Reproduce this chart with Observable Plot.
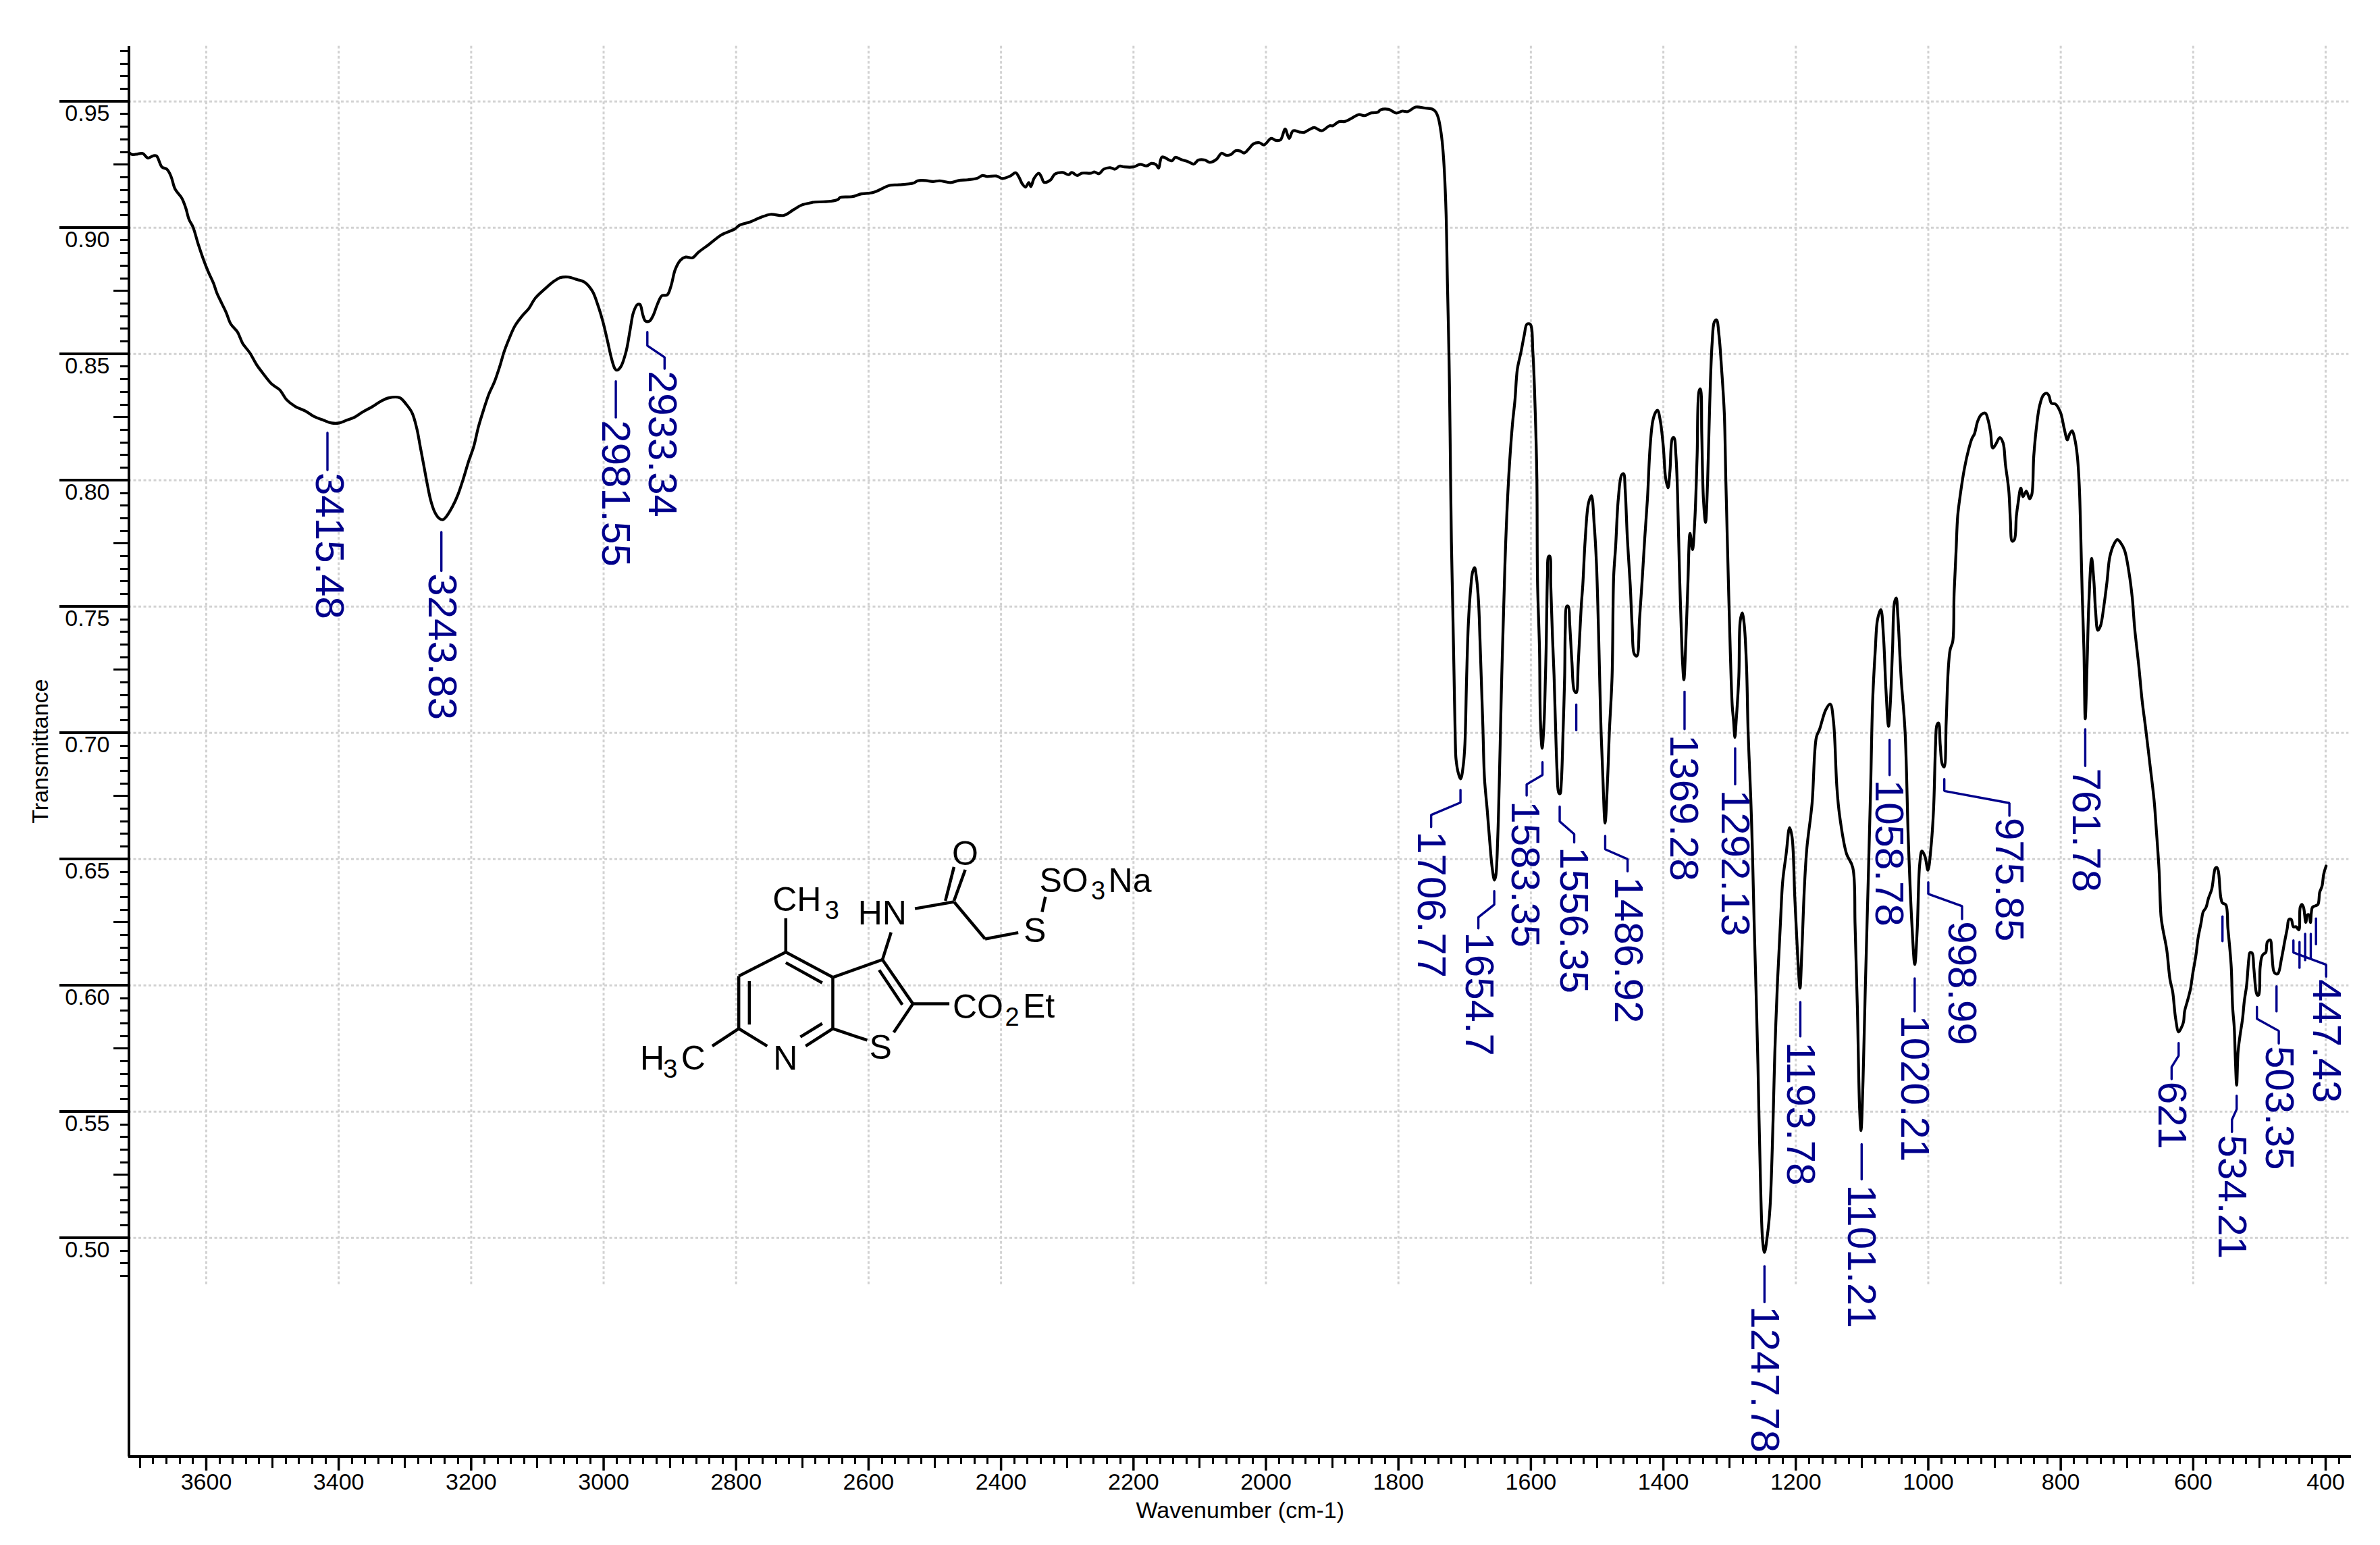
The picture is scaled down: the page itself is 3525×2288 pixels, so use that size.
<!DOCTYPE html>
<html>
<head>
<meta charset="utf-8">
<style>html,body{margin:0;padding:0;background:#fff;overflow:hidden}svg{display:block}</style>
<script src="https://cdn.jsdelivr.net/npm/d3@7"></script>
<script src="https://cdn.jsdelivr.net/npm/@observablehq/plot@0.6"></script>
</head>
<body>
<div id="chart"></div>
<script>
// Spectrum: [wavenumber, transmittance]
const regionHydroxyl = [[3717,.9299],[3712,.9290],[3706,.9291],[3696,.9294],[3688,.9276],[3680,.9285],[3675,.9284],[3667,.9241],[3659,.9231],[3653,.9202],[3647,.9153],[3637,.9118],[3631,.9079],[3626,.9033],[3620,.9003],[3612,.8934],[3605,.8880],[3597,.8826],[3589,.8780],[3584,.8742],[3577,.8703],[3570,.8665],[3563,.8619],[3553,.8588],[3545,.8542],[3534,.8504],[3524,.8458],[3513,.8419],[3501,.8381],[3489,.8358],[3479,.8320],[3466,.8293],[3450,.8274],[3438,.8254],[3423,.8238],[3411,.8227],[3399,.8227],[3388,.8238],[3376,.8250],[3364,.8270],[3349,.8292],[3337,.8312],[3325,.8326],[3308,.8327],[3298,.8301],[3289,.8266],[3282,.8204],[3277,.8135],[3271,.8051],[3266,.7981],[3261,.7920],[3255,.7874],[3249,.7851],[3243,.7844],[3238,.7855],[3228,.7897],[3220,.7943],[3212,.8005],[3204,.8074],[3196,.8135],[3189,.8212],[3181,.8281],[3173,.8343],[3165,.8389],[3157,.8450],[3150,.8511],[3142,.8565],[3134,.8611],[3122,.8654],[3113,.8680],[3103,.8722],[3087,.8762],[3075,.8788],[3066,.8802],[3054,.8805],[3040,.8795],[3029,.8785],[3017,.8749],[3009,.8696],[3001,.8627],[2994,.8550],[2988,.8481],[2983,.8442],[2980,.8436],[2974,.8450],[2966,.8511],[2960,.8596],[2955,.8665],[2949,.8696],[2945,.8696],[2941,.8657],[2937,.8631],[2931,.8630],[2925,.8654],[2919,.8696],[2912,.8731],[2904,.8734],[2898,.8772],[2892,.8834],[2884,.8872],[2876,.8884],[2866,.8881],[2857,.8903],[2841,.8934],[2822,.8972],[2802,.8995],[2795,.9010],[2779,.9023],[2763,.9041],[2748,.9053],[2728,.9049],[2713,.9072],[2701,.9090],[2687,.9099]];
const regionBaseline = [[2684,.9101],[2668,.9103],[2657,.9105],[2646,.9112],[2643,.9120],[2625,.9123],[2611,.9134],[2593,.9140],[2575,.9161],[2568,.9168],[2554,.9170],[2532,.9177],[2526,.9186],[2514,.9187],[2503,.9183],[2493,.9186],[2476,.9179],[2464,.9187],[2450,.9190],[2436,.9196],[2428,.9207],[2421,.9203],[2407,.9205],[2398,.9195],[2386,.9205],[2378,.9218],[2373,.9201],[2368,.9174],[2363,.9161],[2358,.9179],[2355,.9163],[2350,.9196],[2343,.9216],[2339,.9201],[2335,.9180],[2325,.9190],[2319,.9212],[2307,.9219],[2298,.9210],[2293,.9219],[2285,.9207],[2278,.9216],[2264,.9216],[2259,.9221],[2252,.9214],[2245,.9232],[2235,.9238],[2228,.9232],[2221,.9244],[2214,.9241],[2200,.9241],[2190,.9251],[2180,.9245],[2173,.9255],[2166,.9250],[2162,.9236],[2157,.9280],[2142,.9265],[2137,.9279],[2128,.9270],[2117,.9261],[2109,.9252],[2102,.9268],[2092,.9268],[2085,.9259],[2075,.9270],[2067,.9295],[2060,.9287],[2053,.9290],[2046,.9305],[2039,.9304],[2033,.9296],[2026,.9312],[2019,.9332],[2010,.9337],[2003,.9328],[1992,.9354],[1985,.9346],[1978,.9348],[1971,.9391],[1965,.9354],[1959,.9384],[1949,.9379],[1942,.9378],[1935,.9388],[1927,.9397],[1916,.9384],[1904,.9404],[1899,.9404],[1890,.9420],[1881,.9421],[1871,.9433],[1860,.9448],[1851,.9444],[1842,.9454],[1831,.9458],[1827,.9467],[1815,.9469],[1803,.9454],[1794,.9462],[1786,.9460],[1774,.9478],[1760,.9474],[1749,.9470],[1744,.9460],[1740,.9437],[1737,.9400],[1734,.9343],[1731,.9241],[1728,.9053],[1726,.8780],[1723.5,.8473],[1722,.8183],[1720,.7756],[1718,.7501],[1716,.7226]];
const regionCarbonyl = [[1714,.6956],[1713,.6895],[1709.5,.6840],[1706,.6818],[1702,.6873],[1699.6,.6956],[1697,.7224],[1694.4,.7432],[1691,.7569],[1688,.7637],[1685,.7654],[1682,.7611],[1679,.7518],[1677,.7381],[1675,.7224],[1672.5,.7026],[1670,.6818],[1666,.6697],[1662,.6566],[1658.5,.6467],[1655,.6417],[1653,.6434],[1650,.6588],[1646.5,.6939],[1644,.7224],[1641,.7501],[1638,.7756],[1633.5,.8012],[1628,.8217],[1624,.8319],[1620.5,.8439],[1615,.8507],[1610,.8575],[1606,.8618],[1601,.8618],[1597,.8507],[1593.4,.8268],[1591,.8012],[1590,.7603],[1587,.7330],[1585.6,.7048],[1583,.6939],[1580,.7048],[1578,.7224],[1577,.7330],[1575,.7620],[1573.6,.7697],[1571.5,.7700],[1570,.7586],[1567.4,.7381],[1565,.7226],[1563,.7048],[1560.5,.6851],[1558,.6763],[1556,.6759],[1554,.6807],[1551.4,.7004],[1549,.7224],[1548,.7415],[1546,.7501],[1543.5,.7501],[1541.4,.7432],[1538,.7279],[1534.6,.7168],[1531.5,.7159],[1528.4,.7279],[1524,.7501],[1521.6,.7586],[1518,.7765],[1513,.7910],[1508.6,.7939],[1504.4,.7825],[1501,.7671],[1498,.7415],[1495.6,.7159],[1494,.7004],[1491.4,.6829],[1488,.6643],[1484,.6829],[1481.5,.7004],[1477.4,.7224],[1475,.7620],[1472,.7739],[1468,.7927],[1463,.8021],[1460,.8026],[1457.6,.7961],[1454.4,.7774],[1450,.7586],[1447,.7415],[1444,.7313],[1440,.7304],[1436,.7449],[1431.6,.7620],[1428,.7774],[1424,.7927],[1420,.8132],[1416,.8234],[1412,.8268],[1408.7,.8277],[1404.5,.8234],[1400,.8132],[1396.7,.8012],[1393,.7970],[1390,.8038],[1386.3,.8166],[1384,.8169],[1381,.8098],[1378.5,.7944],[1376,.7671],[1373,.7415],[1371,.7279],[1369,.7210],[1366.5,.7330],[1363,.7586],[1359.7,.7790],[1356,.7726],[1352.5,.7842],[1349,.8098],[1346,.8354],[1344,.8362],[1342,.8183],[1339.5,.7927],[1336.3,.7833],[1333,.8012],[1330,.8302],[1326.4,.8541],[1323,.8627],[1319.7,.8635],[1316,.8575],[1312,.8439],[1308,.8268],[1305.6,.7995],[1302.5,.7671],[1299,.7330],[1296,.7108],[1294,.7048],[1292,.6982],[1290,.7048],[1286,.7224],[1284,.7441],[1281,.7475],[1278,.7432],[1274.4,.7262]];
const regionFingerprint = [[1272,.7004],[1268,.6741],[1265.4,.6522],[1263,.6259],[1260,.5974],[1257.2,.5689],[1253.6,.5250],[1250,.4987],[1247.3,.4943],[1243,.5009],[1239,.5118],[1234.3,.5469],[1231.7,.5732],[1227.6,.6018],[1223.4,.6237],[1219.8,.6412],[1214.5,.6522],[1209.4,.6625],[1205.7,.6588],[1201.5,.6347],[1197.4,.6127],[1193.7,.5989],[1191,.6127],[1187,.6390],[1183.3,.6544],[1175.5,.6719],[1169,.6982],[1164,.7015],[1154.7,.7092],[1148,.7114],[1143.2,.7048],[1138,.6785],[1134,.6675],[1123.5,.6522],[1114,.6467],[1110.5,.6237],[1107,.5908],[1103.7,.5513],[1101.6,.5425],[1098.5,.5623],[1095,.5996],[1090.7,.6412],[1087,.6785],[1084,.7125],[1080,.7329],[1076.6,.7449],[1071.6,.7488],[1067.6,.7381],[1064,.7176],[1060,.7026],[1057.5,.7107],[1054,.7329],[1051,.7517],[1048.4,.7534],[1046,.7466],[1041,.7217],[1035,.7004],[1030,.6566],[1024.6,.6237],[1020.4,.6083],[1016.8,.6215],[1013,.6478],[1009.6,.6532],[1005,.6511],[1000.5,.6456],[996,.6544],[992,.6698],[989,.6954],[987,.7031],[984.4,.7039],[982,.6954],[979,.6877],[976,.6865],[973,.7039],[970,.7244],[967,.7329],[963,.7363],[961,.7551],[958,.7722],[955.6,.7858],[951.6,.7944],[945.5,.8046],[939,.8123],[934,.8166],[930.4,.8183],[925.4,.8234],[920.3,.8259],[913.8,.8266],[910,.8242],[906,.8191],[902.7,.8128],[898.7,.8140],[892,.8169],[887,.8148],[883.5,.8063],[878.5,.7961],[876,.7841],[873.4,.7759],[870,.7765],[867,.7858],[864.4,.7910],[860.3,.7969],[857,.7935],[852,.7957],[847,.7927],[843.7,.7944],[840.7,.8097],[835.6,.8234],[832,.8294],[826.6,.8336],[821.5,.8345],[818,.8336],[814,.8305],[808,.8302],[800.3,.8268],[795,.8208],[790,.8160],[786.7,.8183],[782.7,.8196],[779,.8166],[775,.8097],[772,.7978],[770,.7807],[767.6,.7551],[765,.7329],[763,.7056],[760,.7295],[757.5,.7517],[753.4,.7691],[750,.7602],[747.4,.7483],[744,.7406],[740,.7423],[735,.7500],[730,.7602],[726,.7696],[719.7,.7747],[714.6,.7765],[709.6,.7753],[703.5,.7722],[697,.7636],[692,.7534],[688.4,.7415],[682,.7261],[677,.7125],[672,.7022],[665,.6868],[659,.6732],[655.6,.6613],[651.6,.6459]];
const regionLow = [[648.6,.6273],[646,.6226],[640,.6142],[635,.6023],[631,.5975],[626.5,.5868],[622,.5816],[618,.5832],[614.6,.5856],[613,.5897],[608,.5945],[604,.5987],[601,.6041],[596,.6118],[592.5,.6190],[588,.6249],[585,.6291],[580.6,.6309],[577,.6345],[572,.6381],[568.7,.6440],[566.7,.6464],[564.3,.6467],[562,.6452],[558.5,.6351],[556,.6327],[550.7,.6319],[547.6,.6226],[545,.6154],[542.5,.6070],[540.5,.5915],[538,.5832],[536.4,.5712],[534.4,.5605],[532.3,.5736],[529.6,.5796],[525.5,.5868],[522.8,.5939],[519.4,.5999],[516,.6106],[514.3,.6130],[511,.6128],[508.5,.6070],[505,.5975],[503,.5961],[501,.5963],[499,.6070],[496.6,.6112],[494,.6124],[490.5,.6130],[488,.6172],[483.7,.6180],[481.3,.6130],[478.6,.6058],[476,.6047],[472,.6047],[466.7,.6106],[461.6,.6178],[458,.6226],[455.5,.6261],[452,.6261],[448.7,.6232],[444.6,.6232],[440.5,.6220],[438.5,.6309],[436,.6321],[433.4,.6309],[430,.6249],[427.6,.6279],[425,.6279],[423,.6249],[420,.6309],[415.7,.6315],[411.6,.6321],[409,.6369],[405.5,.6393],[403,.6440],[399.3,.6473]];
const spectrum = [...regionHydroxyl, ...regionBaseline, ...regionCarbonyl, ...regionFingerprint, ...regionLow];

// Peak labels: text and where each begins
const peakText  = ["3415.48","3243.83","2981.55","2933.34","1706.77","1654.7","1583.35","1556.35","1486.92","1369.28","1292.13","1247.78","1193.78","1101.21","1058.78","1020.21","998.99","975.85","761.78","621","534.21","503.35","447.43"];
const peakTextW = [3415,3245,2982.4,2912,1750.6,1678.8,1609,1536,1453.4,1369.6,1292.6,1247.6,1193.2,1101.4,1060,1021,949.6,878,762.5,633,541.8,471,399];
const peakTextT = [.8030,.7631,.8238,.8434,.6610,.6211,.6730,.6548,.6430,.6993,.6774,.4730,.5776,.5211,.6814,.5882,.6254,.6664,.6860,.5619,.5408,.5760,.6025];

// Leader lines from each peak to its label, [wavenumber, transmittance]
const leaders = [
  [[3417,.8188],[3417,.8041]],
  [[3245,.7795],[3245,.7641]],
  [[2981.6,.8392],[2981.6,.8249]],
  [[2934,.8587],[2934,.8533],[2908,.8487],[2908,.8442]],
  [[1706.3,.6774],[1706.3,.6724],[1750.6,.6675],[1750.6,.6627]],
  [[1655.3,.6373],[1655.3,.6320],[1679.3,.6270],[1679.3,.6226]],
  [[1582.5,.6884],[1582.5,.6833],[1606.4,.6796],[1606.4,.6752]],
  [[1556.5,.6708],[1556.5,.6649],[1534.6,.6599],[1534.6,.6566]],
  [[1531.5,.7112],[1531.5,.7011]],
  [[1487.8,.6592],[1487.8,.6539],[1454,.6500],[1454,.6452]],
  [[1368,.7163],[1368,.7015]],
  [[1291.6,.6939],[1291.6,.6796]],
  [[1247.3,.4888],[1247.3,.4746]],
  [[1193.2,.5934],[1193.2,.5798]],
  [[1100.6,.5371],[1100.6,.5232]],
  [[1058.4,.6972],[1058.4,.6833]],
  [[1020.5,.6028],[1020.5,.5897]],
  [[1000,.6408],[1000,.6362],[949,.6314],[949,.6263]],
  [[975.8,.6817],[975.8,.6770],[877.5,.6722],[877.5,.6672]],
  [[763,.7014],[763,.6869]],
  [[622,.5772],[622,.5722],[632.6,.5677],[632.6,.5629]],
  [[555.8,.6273],[555.8,.6175]],
  [[534.4,.5563],[534.4,.5510],[541.5,.5468],[541.5,.5420]],
  [[503.8,.5915],[503.8,.5868],[470.8,.5820],[470.8,.5770]],
  [[474.2,.5996],[474.2,.5897]],
  [[448.7,.6178],[448.7,.6130],[399.3,.6082],[399.3,.6035]],
  [[439.5,.6172],[439.5,.6070]],
  [[431,.6204],[431,.6100]],
  [[422.5,.6204],[422.5,.6106]],
  [[414.6,.6265],[414.6,.6163]]
];
const leaderPoints = leaders.flatMap((pts, id) => pts.map(p => ({w: p[0], t: p[1], id})));

// Structure drawing in the chart's own units: w1, t1, w2, t2
const bonds = [
  [2725,.6132,2796,.6037],[2796,.6037,2796,.5829],[2796,.5829,2753,.5760],[2695,.5760,2654,.5829],
  [2654,.5829,2654,.6032],[2654,.6032,2725,.6132],[2725,.6090,2670,.6010],[2780,.6017,2780,.5845],
  [2703,.5796,2670,.5849],[2725,.6132,2725,.6266],[2796,.5829,2836,.5760],[2654,.6032,2579,.6102],
  [2579,.6102,2533,.5927],[2584,.6061,2549,.5923],[2533,.5927,2562,.5814],[2654,.5829,2602,.5783],
  [2579,.6102,2566,.6210],[2533,.5927,2478,.5927],[2530,.6304,2471,.6331],[2484,.6335,2471,.6469],
  [2471,.6335,2454,.6458],[2471,.6331,2424,.6184],[2424,.6184,2374,.6209],[2338,.6291,2333,.6351]
];
const atomText = ["CH","HN","O","S","SO","Na","CO","Et","S","N","H","C"];
const atomW    = [2745,2616,2474,2366,2342,2238,2473,2367,2599,2744,2945,2883];
const atomT    = [.6295,.6242,.6478,.6173,.6369,.6369,.5870,.5872,.5709,.5667,.5667,.5667];
const subText  = ["3","3","2","3"];
const subW     = [2666,2264,2394,2910];
const subT     = [.6264,.6340,.5840,.5635];

// Axes
const majorW  = [3600,3400,3200,3000,2800,2600,2400,2200,2000,1800,1600,1400,1200,1000,800,600,400];
const midW    = d3.range(3700, 300, -100).filter(v => v % 200 !== 0);
const minorW  = d3.range(3700, 370, -20).filter(v => v % 100 !== 0);
const majorT  = [.95,.90,.85,.80,.75,.70,.65,.60,.55,.50];
const midT    = [.975,.925,.875,.825,.775,.725,.675,.625,.575,.525,.475].filter(v => v < .972 && v > .48);
const minorT  = d3.range(0, 98).map(i => +(.485 + i * .005).toFixed(3)).filter(v => v <= .97 && Math.round(v * 1000) % 25 !== 0);

const font = "'Liberation Sans', Arial, sans-serif";
const navy = "#00008b";
const wMin = 3717.2, wMax = 361.6, tMin = .4134, tMax = .97195;
const gridStyle = {stroke: "#d2d2d2", strokeWidth: 3, strokeDasharray: "4 3.5"};
const blankTick = () => "";
const crisp = {shapeRendering: "crispEdges"};

const chart = Plot.plot({
  width: 3525, height: 2288,
  marginLeft: 190, marginRight: 43.3, marginTop: 67.7, marginBottom: 131.3,
  style: {fontFamily: font, background: "#fff"},
  x: {domain: [wMin, wMax], axis: null},
  y: {domain: [tMin, tMax], axis: null},
  marks: [
    Plot.ruleY(majorT, {x1: wMin, x2: 365, ...gridStyle}),
    Plot.ruleX(majorW, {y1: .4816, y2: tMax, ...gridStyle}),
    // ticks
    Plot.axisY({ticks: minorT, tickSize: 12, strokeWidth: 3, tickFormat: blankTick, label: null, anchor: "left", ...crisp}),
    Plot.axisY({ticks: midT, tickSize: 22, strokeWidth: 3, tickFormat: blankTick, label: null, anchor: "left", ...crisp}),
    Plot.axisY({ticks: majorT, tickSize: 102, strokeWidth: 4, tickFormat: blankTick, label: null, anchor: "left", ...crisp}),
    Plot.axisY({ticks: majorT, tickSize: 0, tickPadding: 28, dy: 18, tickFormat: ".2f", fontSize: 34, fill: "#000", label: null, anchor: "left"}),
    Plot.axisX({ticks: minorW, tickSize: 11, strokeWidth: 3, tickFormat: blankTick, label: null, anchor: "bottom", ...crisp}),
    Plot.axisX({ticks: midW, tickSize: 17, strokeWidth: 3, tickFormat: blankTick, label: null, anchor: "bottom", ...crisp}),
    Plot.axisX({ticks: majorW, tickSize: 21, strokeWidth: 3.5, tickPadding: 4, tickFormat: "d", fontSize: 34, fill: "#000", label: null, anchor: "bottom"}),
    Plot.ruleX([wMin], {stroke: "#000", strokeWidth: 4, ...crisp}),
    Plot.ruleY([tMin], {stroke: "#000", strokeWidth: 4, ...crisp}),
    // axis titles
    Plot.text(["Wavenumber (cm-1)"], {x: [2039], y: [.3890], fontSize: 34, textAnchor: "middle", lineAnchor: "bottom", fill: "#000"}),
    Plot.text(["Transmittance"], {x: [3838.8], y: [.6927], fontSize: 34, rotate: -90, textAnchor: "middle", lineAnchor: "bottom", fill: "#000"}),
    // spectrum
    Plot.line(spectrum, {x: d => d[0], y: d => d[1], stroke: "#000", strokeWidth: 4.2, curve: "catmull-rom", strokeLinejoin: "round"}),
    // leaders and peak labels
    Plot.line(leaderPoints, {x: "w", y: "t", z: "id", stroke: navy, strokeWidth: 3.4, strokeLinejoin: "miter"}),
    Plot.text(peakText, {x: peakTextW, y: peakTextT, rotate: 90, textAnchor: "start", lineAnchor: "middle", fontSize: 60, fill: navy}),
    // structure
    Plot.link(bonds, {x1: d => d[0], y1: d => d[1], x2: d => d[2], y2: d => d[3], stroke: "#000", strokeWidth: 4.5, strokeLinecap: "butt"}),
    Plot.text(atomText, {x: atomW, y: atomT, textAnchor: "start", lineAnchor: "bottom", fontSize: 50, fill: "#000"}),
    Plot.text(subText, {x: subW, y: subT, textAnchor: "start", lineAnchor: "bottom", fontSize: 38, fill: "#000"})
  ]
});
document.getElementById("chart").appendChild(chart);
</script>
</body>
</html>
